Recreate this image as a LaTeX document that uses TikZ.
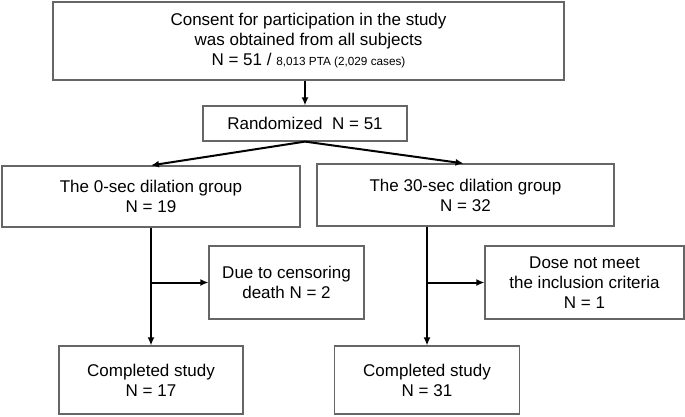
\documentclass[tikz,border=0pt]{standalone}
\usepackage{fontspec}
\setmainfont{Liberation Sans}
\usetikzlibrary{arrows.meta}
\begin{document}
\begin{tikzpicture}[x=1pt,y=-1pt,
  box/.style={draw=black!60,line width=1.2pt,fill=white,inner sep=0pt,align=center,
    font=\fontsize{17}{20}\selectfont},
  arr/.style={line width=2pt,-{Latex[length=8pt,width=7pt]}}]
\useasboundingbox (0,0) rectangle (685,416);
\node[box,minimum width=511pt,minimum height=78pt] (top) at (308.5,41)
  {Consent for participation in the study\\was obtained from all subjects\\N = 51 / {\fontsize{11.75}{14}\selectfont 8,013 PTA (2,029 cases)}};
\node[box,minimum width=204pt,minimum height=35pt] (rand) at (305,123.5) {Randomized~~N = 51};
\node[box,minimum width=298pt,minimum height=61pt] (g0) at (151,196.5) {The 0-sec dilation group\\N = 19};
\node[box,minimum width=297pt,minimum height=62pt] (g30) at (465.5,195) {The 30-sec dilation group\\N = 32};
\node[box,minimum width=155pt,minimum height=73pt] (due) at (286.5,282.5) {Due to censoring\\death N = 2};
\node[box,minimum width=199pt,minimum height=73pt] (dose) at (584.5,282.5) {Dose not meet\\the inclusion criteria\\N = 1};
\node[box,minimum width=184pt,minimum height=68pt] (c0) at (151,380) {Completed study\\N = 17};
\node[box,minimum width=185pt,minimum height=68pt] (c30) at (427,380) {Completed study\\N = 31};
\draw[arr] (rand.north |- top.south) -- (rand.north);
\draw[arr] (rand.south) -- (g0.north);
\draw[arr] (rand.south) -- ([xshift=-2pt]g30.north);
\draw[arr] (g0.south) -- (c0.north);
\draw[arr] (g0.south |- due.west) -- (due.west);
\draw[arr] (c30.north |- g30.south) -- (c30.north);
\draw[arr] (c30.north |- dose.west) -- (dose.west);
\end{tikzpicture}
\end{document}
